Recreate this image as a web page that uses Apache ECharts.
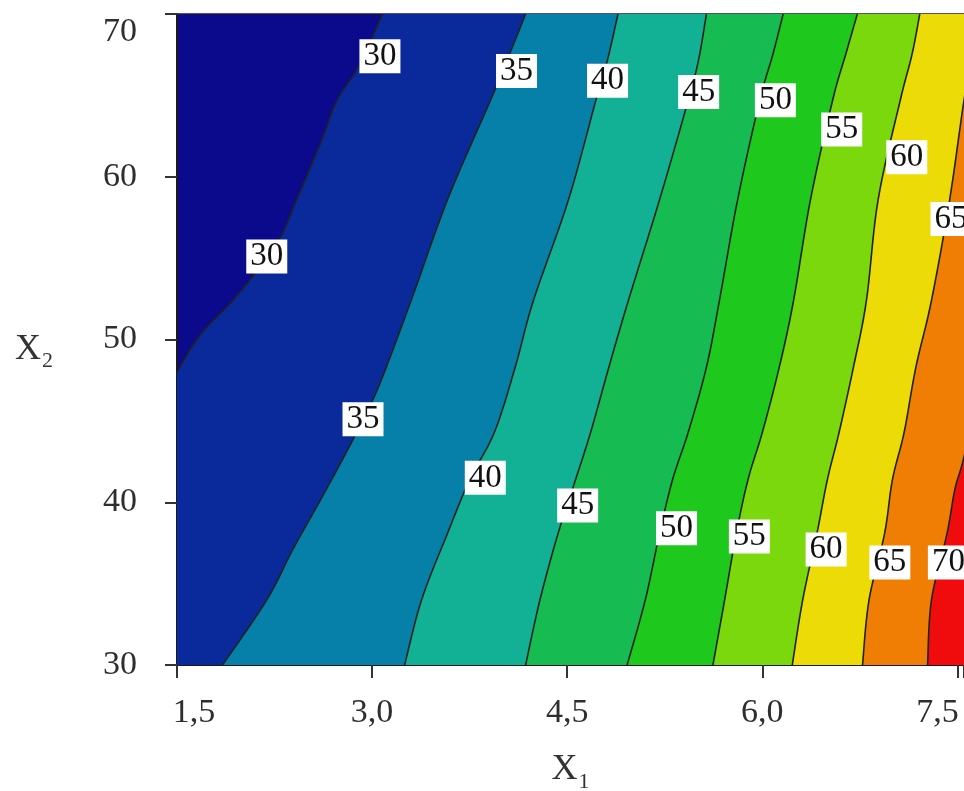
<!DOCTYPE html>
<html><head><meta charset="utf-8">
<script src="https://cdn.jsdelivr.net/npm/echarts@6/dist/echarts.min.js"></script>
<style>html,body{margin:0;padding:0;background:#fff}#c{width:964px;height:791px}</style>
</head><body><div id="c"></div>
<script>
// Contour levels of the response surface
const levels = [30, 35, 40, 45, 50, 55, 60, 65, 70];
// Contour lines, as [X1, X2] points (bottom/left end to top end)
const contour30 = [[1.50,48.0],[1.68,50.3],[1.93,52.4],[2.19,55.0],[2.31,56.5],[2.42,58.6],[2.60,62.0],[2.73,64.7],[2.89,66.7],[3.08,70.0]];
const contour35 = [[1.85,30.0],[2.19,34.0],[2.39,37.1],[2.60,40.1],[2.81,43.2],[2.93,45.1],[3.06,47.3],[3.30,52.4],[3.58,58.6],[3.91,64.7],[4.04,67.2],[4.18,70.0]];
const contour40 = [[3.25,30.0],[3.38,34.0],[3.58,38.1],[3.75,41.4],[3.94,44.3],[4.10,48.3],[4.24,52.4],[4.51,58.6],[4.72,64.7],[4.81,67.2],[4.89,70.0]];
const contour45 = [[4.18,30.0],[4.29,34.0],[4.43,38.1],[4.54,40.8],[4.68,44.3],[4.82,48.3],[4.97,52.4],[5.21,58.6],[5.43,64.7],[5.51,67.2],[5.57,70.0]];
const contour50 = [[4.96,30.0],[5.10,34.0],[5.21,38.1],[5.31,41.4],[5.43,44.3],[5.57,48.3],[5.67,52.4],[5.81,58.6],[5.98,64.7],[6.08,67.5],[6.16,70.0]];
const contour55 = [[5.62,30.0],[5.71,34.0],[5.80,38.1],[5.89,41.4],[6.00,44.3],[6.13,48.3],[6.24,52.4],[6.37,58.6],[6.54,64.7],[6.64,67.5],[6.73,70.0]];
const contour60 = [[6.23,30.0],[6.31,34.0],[6.42,38.1],[6.50,41.4],[6.59,44.3],[6.70,48.3],[6.80,52.4],[6.89,58.6],[7.06,64.7],[7.15,67.5],[7.21,70.0]];
const contour65 = [[6.77,30.0],[6.82,34.0],[6.94,38.1],[7.00,41.4],[7.09,44.3],[7.18,48.3],[7.30,52.4],[7.44,58.6],[7.55,64.7],[7.66,70.0]];
const contour70 = [[7.27,30.0],[7.30,34.0],[7.42,38.1],[7.48,40.8],[7.55,42.8],[7.67,47.5],[7.83,52.4],[8.13,70.0]];
const contourLines = [contour30, contour35, contour40, contour45, contour50, contour55, contour60, contour65, contour70];
// Band colours: below 30, 30-35, ..., above 70
const bandColors = ['#0c0a8c','#0a2a9c','#0680a8','#12b094','#16bb52','#1ec81c','#7ad80c','#ecdb06','#f07e05','#f00c0c'];
// Inline contour labels [X1, X2, level]
const labelsUpper = [[3.06,67.4,30],[4.11,66.5,35],[4.81,65.9,40],[5.51,65.2,45],[6.10,64.7,50],[6.61,62.9,55],[7.11,61.2,60],[7.45,57.4,65]];
const labelsLower = [[2.19,55.1,30],[2.93,45.1,35],[3.87,41.5,40],[4.58,39.8,45],[5.34,38.4,50],[5.90,37.9,55],[6.49,37.1,60],[6.98,36.3,65],[7.43,36.3,70]];
// Axes
const xMin = 1.5, xMax = 7.55, xStep = 1.5;
const yMin = 30, yMax = 70, yStep = 10;

const serif = "'Liberation Serif', 'Times New Roman', serif";

// smooth a pixel polyline (Catmull-Rom through the read points), drawing only
function smoothPx(p) {
  const out = [];
  const n = p.length;
  for (let i = 0; i < n - 1; i++) {
    const p0 = p[Math.max(i - 1, 0)], p1 = p[i], p2 = p[i + 1], p3 = p[Math.min(i + 2, n - 1)];
    const steps = 10;
    for (let s = 0; s < steps; s++) {
      const t = s / steps, t2 = t * t, t3 = t2 * t;
      out.push([
        0.5 * ((2 * p1[0]) + (-p0[0] + p2[0]) * t + (2 * p0[0] - 5 * p1[0] + 4 * p2[0] - p3[0]) * t2 + (-p0[0] + 3 * p1[0] - 3 * p2[0] + p3[0]) * t3),
        0.5 * ((2 * p1[1]) + (-p0[1] + p2[1]) * t + (2 * p0[1] - 5 * p1[1] + 4 * p2[1] - p3[1]) * t2 + (-p0[1] + 3 * p1[1] - 3 * p2[1] + p3[1]) * t3)
      ]);
    }
  }
  out.push(p[n - 1]);
  return out;
}

const chart = echarts.init(document.getElementById('c'), null, {renderer: 'canvas'});

const option = {
  animation: false,
  backgroundColor: '#ffffff',
  grid: {left: 177, right: 0, top: 14, bottom: 126, show: true, backgroundColor: bandColors[0], borderWidth: 0,
    containLabel: false, outerBoundsMode: 'none'},
  xAxis: [{
    type: 'value', min: xMin, max: xMax, interval: xStep,
    name: 'X{s|1}', nameLocation: 'middle', nameGap: 82,
    nameTextStyle: {fontFamily: serif, fontSize: 36, color: '#333',
      rich: {s: {fontFamily: serif, fontSize: 22, color: '#333', padding: [24, 0, 0, 1]}}},
    axisLine: {show: true, onZero: false, lineStyle: {color: '#1a1a1a', width: 2}},
    axisTick: {show: true, inside: false, length: 13, lineStyle: {color: '#333', width: 2}},
    splitLine: {show: false},
    axisLabel: {
      margin: 31, fontFamily: serif, fontSize: 34, color: '#2e2e2e',
      formatter: function (v) {
        const k = v / xStep;
        if (Math.abs(k - Math.round(k)) > 1e-6) return '';
        const s = v.toFixed(1).replace('.', ',');
        if (Math.abs(v - 1.5) < 1e-6) return '{l|' + s + '}';
        if (Math.abs(v - 7.5) < 1e-6) return '{r|' + s + '}';
        return s;
      },
      rich: {
        l: {fontFamily: serif, fontSize: 34, color: '#2e2e2e', padding: [0, 0, 0, 34]},
        r: {fontFamily: serif, fontSize: 34, color: '#2e2e2e', padding: [0, 40, 0, 0]}
      }
    }
  }, {
    type: 'value', position: 'top', min: xMin, max: xMax, interval: xStep,
    axisLine: {show: true, lineStyle: {color: '#1a1a3a', width: 1.5}},
    axisTick: {show: false}, axisLabel: {show: false}, splitLine: {show: false}
  }],
  yAxis: {
    type: 'value', min: yMin, max: yMax, interval: yStep,
    name: 'X{s|2}', nameLocation: 'middle', nameRotate: 0, nameGap: 124,
    nameTextStyle: {fontFamily: serif, fontSize: 36, color: '#333', padding: [20, 0, 0, 0],
      rich: {s: {fontFamily: serif, fontSize: 22, color: '#333', padding: [24, 0, 0, 1]}}},
    axisLine: {show: true, onZero: false, lineStyle: {color: '#1a1a1a', width: 2}},
    axisTick: {show: true, inside: false, length: 12, lineStyle: {color: '#333', width: 2}},
    splitLine: {show: false},
    axisLabel: {
      margin: 40, fontFamily: serif, fontSize: 34, color: '#2e2e2e',
      formatter: function (v) { return v === yMax ? '{t|' + v + '}' : String(v); },
      rich: {t: {fontFamily: serif, fontSize: 34, color: '#2e2e2e', padding: [36, 0, 0, 0]}}
    }
  },
  series: [{
    type: 'custom',
    clip: true,
    data: levels.map(function (l, i) { return [i, l]; }),
    renderItem: function (params, api) {
      const i = api.value(0);
      const line = contourLines[i];
      const pts = smoothPx(line.map(function (p) { return api.coord(p); }));
      const poly = pts.concat([api.coord([20, yMax]), api.coord([20, yMin]), api.coord([line[0][0], yMin])]);
      return {
        type: 'group',
        children: [
          {type: 'polygon', shape: {points: poly}, style: {fill: bandColors[i + 1]}},
          {type: 'polyline', shape: {points: pts}, style: {stroke: '#1e2320', lineWidth: 1.6, fill: null}}
        ]
      };
    }
  }, {
    type: 'scatter',
    symbol: 'rect', symbolSize: 1,
    itemStyle: {color: 'rgba(0,0,0,0)', opacity: 1},
    emphasis: {disabled: true},
    data: labelsUpper.concat(labelsLower),
    label: {
      show: true, position: 'inside', opacity: 1,
      formatter: function (p) { return String(p.value[2]); },
      fontFamily: serif, fontSize: 33, color: '#111',
      backgroundColor: '#ffffff', padding: [1, 4, 0, 4]
    },
    z: 5
  }]
};
chart.setOption(option);
</script></body></html>
